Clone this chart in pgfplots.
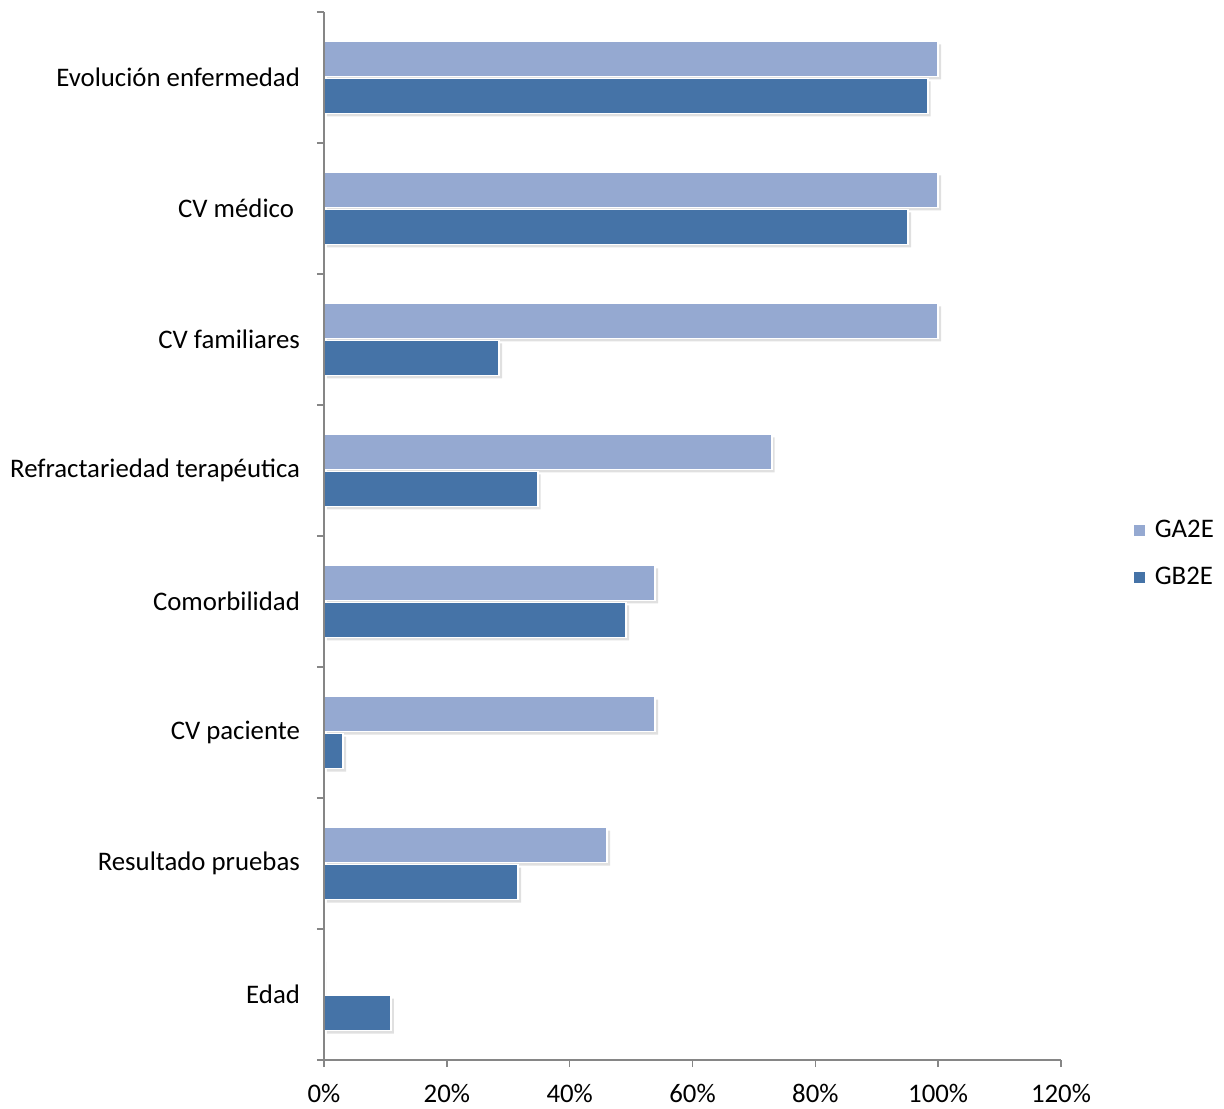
\documentclass[border=0pt]{standalone}
\usepackage{pgfplots}
\pgfplotsset{compat=1.18}
\usepackage{fontspec}
\setmainfont{Carlito}
\definecolor{gaE}{RGB}{149,169,209}
\definecolor{gbE}{RGB}{69,115,167}
\definecolor{axgray}{RGB}{134,134,134}
\begin{document}
\begin{tikzpicture}
\path[use as bounding box] (-162pt,-24pt) rectangle (450pt,530pt);
\begin{axis}[
  at={(0,0)}, anchor=south west,
  scale only axis, width=368.5pt, height=524pt,
  xbar, bar width=17.5pt,
  xmin=0, xmax=120, ymin=-0.5, ymax=7.5,
  axis lines*=left,
  axis on top,
  axis line style={axgray, line width=0.8pt},
  tick align=outside,
  tick style={axgray, line width=0.8pt},
  major tick length=3.5pt,
  xtick={0,20,...,120},
  xticklabel={\pgfmathprintnumber{\tick}\%},
  /pgf/number format/assume math mode=true,
  ytick={-0.5,0.5,...,7.5},
  yticklabels={},
  extra y ticks={0,1,2,3,4,5,6,7},
  extra y tick labels={Edad, Resultado pruebas, CV paciente, Comorbilidad, Refractariedad terapéutica, CV familiares, CV médico\kern3pt, Evolución enfermedad},
  extra y tick style={major tick length=0pt, yticklabel style={anchor=east, xshift=-8.5pt}},
  ticklabel style={font=\fontsize{13.4}{15}\selectfont, text=black},
  xticklabel style={yshift=-5pt},
  legend style={draw=none, at={(1.099,0.483)}, anchor=west, font=\fontsize{13.4}{15}\selectfont, row sep=9.5pt, inner sep=0pt},
  legend cell align=left,
  legend image code/.code={\path[draw=none, fill=none] (0pt,-2.7pt) rectangle (8.2pt,2.7pt); \fill[#1, draw=none] (0pt,-2.7pt) rectangle (5.4pt,2.7pt);},
]
\addplot[forget plot, fill=gaE, draw=white, line width=0.8pt, bar shift=9.25pt,
  preaction={fill=black!12, draw=none, transform canvas={xshift=1.5pt, yshift=-1.5pt}}] coordinates {
  (100,7) (100,6) (100,5) (72.9,4) (53.9,3) (53.9,2) (46.1,1) (0,0)};
\addplot[forget plot, fill=gbE, draw=white, line width=0.8pt, bar shift=-9.25pt,
  preaction={fill=black!12, draw=none, transform canvas={xshift=1.5pt, yshift=-1.5pt}}] coordinates {
  (98.3,7) (95.1,6) (28.5,5) (34.8,4) (49.2,3) (3.1,2) (31.6,1) (10.9,0)};
\addlegendimage{fill=gaE}
\addlegendentry{GA2E}
\addlegendimage{fill=gbE}
\addlegendentry{GB2E}
\end{axis}
\end{tikzpicture}
\end{document}
